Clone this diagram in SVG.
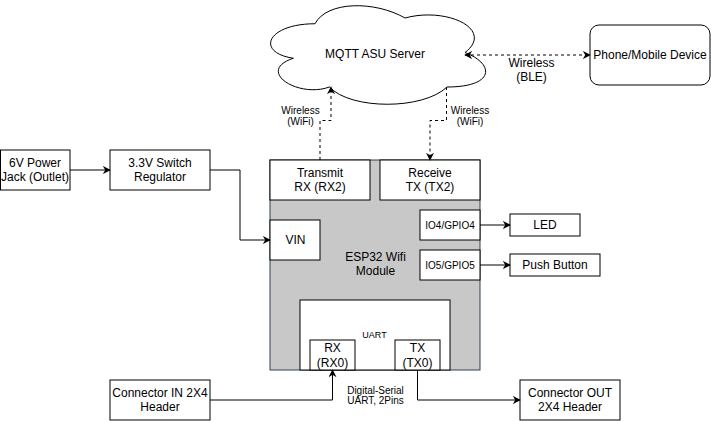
<svg xmlns="http://www.w3.org/2000/svg" width="711" height="421" viewBox="0 0 711 421">
<defs>
<marker id="arr" viewBox="0 0 10 10" refX="9" refY="5" markerWidth="8" markerHeight="8" markerUnits="userSpaceOnUse" orient="auto-start-reverse">
<path d="M0,0 L10,5 L0,10 L3,5 Z" fill="#000" stroke="none"/>
</marker>
<style>
.box{fill:#fff;stroke:#000;stroke-width:1}
.t{font-family:"Liberation Sans",Arial,sans-serif;font-size:12px;fill:#000;text-anchor:middle}
.s{font-size:10px}
.xs{font-size:9px}
.c{fill:none;stroke:#000;stroke-width:1}
.d{stroke-dasharray:3 3}
</style>
</defs>
<rect width="711" height="421" fill="#fff"/>

<g id="cloud">
<path class="box" d="M315,23.75 C267,23.75 255,52.5 293.4,58.25 C255,70.9 298.2,98.5 329.4,87 C351,110 423,110 447,87 C495,87 495,64 465,52.5 C495,29.5 447,6.5 405,18 C375,0.75 327,0.75 315,23.75 Z"/>
<text class="t" x="375" y="57.5">MQTT ASU Server</text>
</g>

<g id="phone">
<rect class="box" x="590" y="25" width="120" height="60" rx="9" ry="9"/>
<text class="t" x="650" y="59.2">Phone/Mobile Device</text>
</g>

<g id="power">
<rect class="box" x="0.5" y="150" width="69.5" height="40"/>
<text class="t" x="35" y="167">6V Power</text>
<text class="t" x="35" y="181.4">Jack (Outlet)</text>
</g>

<g id="regulator">
<rect class="box" x="110" y="150" width="100" height="40"/>
<text class="t" x="160" y="167">3.3V Switch</text>
<text class="t" x="160" y="181.4">Regulator</text>
</g>

<g id="esp32">
<rect x="270" y="160" width="210" height="210" fill="#c8c8c8" stroke="#314354" stroke-width="1"/>
<text class="t" x="375.5" y="260.5">ESP32 Wifi</text>
<text class="t" x="375.5" y="274.9">Module</text>
</g>

<g id="transmit">
<rect class="box" x="270" y="160" width="100" height="40"/>
<text class="t" x="320" y="177">Transmit</text>
<text class="t" x="320" y="191.4">RX (RX2)</text>
</g>

<g id="receive">
<rect class="box" x="380" y="160" width="100" height="40"/>
<text class="t" x="430" y="177">Receive</text>
<text class="t" x="430" y="191.4">TX (TX2)</text>
</g>

<g id="vin">
<rect class="box" x="270" y="220" width="50" height="40"/>
<text class="t" x="295.5" y="244.2">VIN</text>
</g>

<g id="io4">
<rect class="box" x="420" y="210" width="60" height="30"/>
<text class="t s" x="450" y="228.6">IO4/GPIO4</text>
</g>

<g id="io5">
<rect class="box" x="420" y="250" width="60" height="30"/>
<text class="t s" x="450" y="268.6">IO5/GPIO5</text>
</g>

<g id="led">
<rect class="box" x="510" y="214" width="70" height="22"/>
<text class="t" x="545" y="229.2">LED</text>
</g>

<g id="pushbutton">
<rect class="box" x="510" y="254" width="90" height="22"/>
<text class="t" x="555" y="269.2">Push Button</text>
</g>

<g id="uart">
<rect class="box" x="300" y="300" width="150" height="70"/>
<text class="t xs" x="374.5" y="338.2">UART</text>
</g>

<g id="rx0">
<rect class="box" x="310" y="340" width="45" height="30"/>
<text class="t" x="332.5" y="352.4">RX</text>
<text class="t" x="332.5" y="366.8">(RX0)</text>
</g>

<g id="tx0">
<rect class="box" x="395" y="340" width="45" height="30"/>
<text class="t" x="417.5" y="352.4">TX</text>
<text class="t" x="417.5" y="366.8">(TX0)</text>
</g>

<g id="connin">
<rect class="box" x="110" y="380" width="100" height="40"/>
<text class="t" x="160" y="397">Connector IN 2X4</text>
<text class="t" x="160" y="411.4">Header</text>
</g>

<g id="connout">
<rect class="box" x="520" y="380" width="100" height="40"/>
<text class="t" x="570" y="397">Connector OUT</text>
<text class="t" x="570" y="411.4">2X4 Header</text>
</g>

<g id="connectors">
<path class="c" d="M70,170 H110" marker-end="url(#arr)"/>
<path class="c" d="M210,170 H240 V240 H270" marker-end="url(#arr)"/>
<path class="c" d="M480,225 H510" marker-end="url(#arr)"/>
<path class="c" d="M480,265 H510" marker-end="url(#arr)"/>
<path class="c" d="M210,400 H332.5 V370" marker-end="url(#arr)"/>
<path class="c" d="M417.5,370 V400 H520" marker-end="url(#arr)"/>
<path class="c d" d="M320,160 V120.5 H331 V87" marker-end="url(#arr)"/>
<path class="c d" d="M446.5,87 V120.5 H430 V160" marker-end="url(#arr)"/>
<path class="c d" d="M465,55 H590" marker-start="url(#arr)" marker-end="url(#arr)"/>
<text class="t s" x="300.5" y="113.5">Wireless</text>
<text class="t s" x="300.5" y="125.2">(WiFi)</text>
<text class="t s" x="470" y="113.5">Wireless</text>
<text class="t s" x="470" y="125.2">(WiFi)</text>
<text class="t" x="531.5" y="66.7">Wireless</text>
<text class="t" x="531.5" y="81.1">(BLE)</text>
<text class="t s" x="375.5" y="394.2">Digital-Serial</text>
<text class="t s" x="375.5" y="403.7">UART, 2Pins</text>
</g>
</svg>
